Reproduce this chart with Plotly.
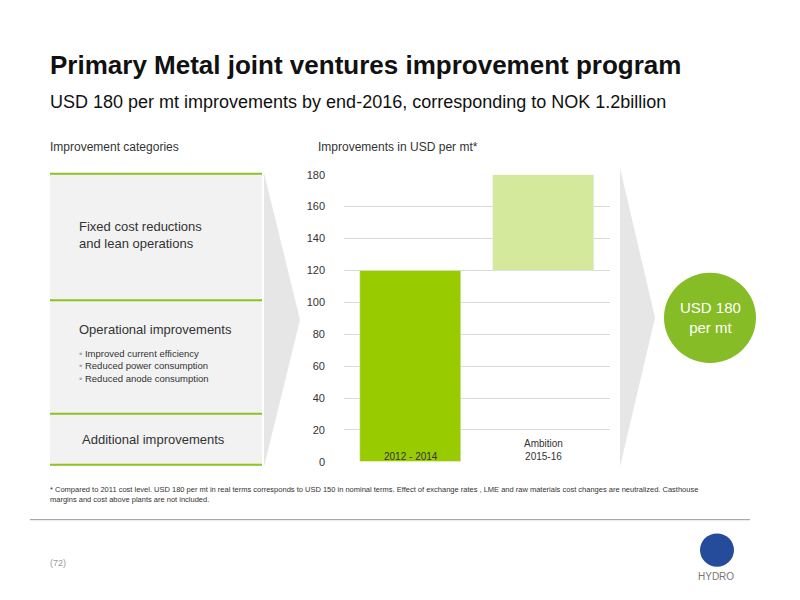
import plotly.graph_objects as go

categories = ["2012 - 2014", "Ambition<br>2015-16"]
bar_base = [0, 120]
bar_height = [120, 60]
bar_colors = ["#99cc00", "#d4e99b"]
y_ticks = [0, 20, 40, 60, 80, 100, 120, 140, 160, 180]

W, H = 800, 600
OFF = 8
FONT = "Liberation Sans"
def px(x): return (x - OFF) / W
def py(y): return 1 - (y - OFF) / H

fig = go.Figure()
fig.add_trace(go.Bar(x=[0, 1], y=bar_height, base=bar_base, marker_color=bar_colors,
                     width=0.76, hoverinfo="skip"))

ann = []
for i, c in enumerate(categories):
    ann.append(dict(x=i, y=0, yref="y", xref="x", text=c, showarrow=False,
                    yanchor="bottom", yshift=-2, font=dict(size=10, color="#333", family=FONT)))

shapes = []
shapes.append(dict(type="rect", xref="paper", yref="paper", x0=px(50), x1=px(262), y0=py(468), y1=py(171),
                   fillcolor="#f2f2f2", line_width=0, layer="below"))
for yy in [171, 300, 416, 468]:
    shapes.append(dict(type="line", xref="paper", yref="paper", x0=px(50), x1=px(262), y0=py(yy), y1=py(yy),
                       line=dict(color="#8dc21f", width=2)))
def arrow(x0, x1, yt, yb, ym):
    return dict(type="path", xref="paper", yref="paper",
                path=f"M {px(x0)} {py(yt)} L {px(x1)} {py(ym)} L {px(x0)} {py(yb)} Z",
                fillcolor="#e6e6e6", line_width=0, layer="below")
shapes.append(arrow(264, 300, 170, 470, 320))
shapes.append(arrow(620, 655, 165, 470, 318))
shapes.append(dict(type="circle", xref="paper", yref="paper", x0=px(664), x1=px(756), y0=py(364), y1=py(272),
                   fillcolor="#86bc25", line_width=0))
shapes.append(dict(type="line", xref="paper", yref="paper", x0=px(30), x1=px(750), y0=py(524), y1=py(524),
                   line=dict(color="#999", width=1)))
shapes.append(dict(type="circle", xref="paper", yref="paper", x0=px(700), x1=px(734), y0=py(572), y1=py(538),
                   fillcolor="#244c9b", line_width=0))

def t(x, y, s, size, color="#333", xa="left", ya="middle", align="left"):
    ann.append(dict(x=px(x), y=py(y), xref="paper", yref="paper", text=s,
                    showarrow=False, xanchor=xa, yanchor=ya, align=align,
                    font=dict(size=size, color=color, family=FONT)))
t(48, 60, "<b>Primary Metal joint ventures improvement program</b>", 26, "#111")
t(48, 98, "USD 180 per mt improvements by end-2016, corresponding to NOK 1.2billion", 18, "#111")
t(48, 144, "Improvement categories", 12)
t(316, 144, "Improvements in USD per mt*", 12)
t(77, 234, "Fixed cost reductions<br>and lean operations", 13)
t(77, 330, "Operational improvements", 13)
t(77, 367, "<span style='color:#aaa'>•</span> Improved current efficiency<br><span style='color:#aaa'>•</span> Reduced power consumption<br><span style='color:#aaa'>•</span> Reduced anode consumption", 9.5)
t(80, 442, "Additional improvements", 13)
t(710, 318, "USD 180<br>per mt", 15, "white", xa="center", align="center")
t(48, 498, "* Compared to 2011 cost level. USD 180 per mt in real terms corresponds to USD 150 in nominal terms. Effect of exchange rates , LME and raw materials cost changes are neutralized. Casthouse<br>margins and cost above plants are not included.", 7.5)
t(48, 568, "(72)", 9, "#999")
t(716, 582, "HYDRO", 10, "#777", xa="center")

fig.update_layout(width=W, height=H, margin=dict(l=0, r=0, t=0, b=0), paper_bgcolor="white",
                  plot_bgcolor="white", showlegend=False, shapes=shapes, annotations=ann,
                  font=dict(family=FONT),
                  xaxis=dict(domain=[px(344), px(610)], range=[-0.5, 1.5], showticklabels=False,
                             showgrid=False, zeroline=False, fixedrange=True),
                  yaxis=dict(domain=[py(465), py(172)], range=[0, 180], tickvals=y_ticks,
                             gridcolor="#d9d9d9", zeroline=False, ticks="",
                             tickfont=dict(size=11, color="#333"), ticklabelstandoff=18),
                  bargap=0)
fig.write_html("out.html")
